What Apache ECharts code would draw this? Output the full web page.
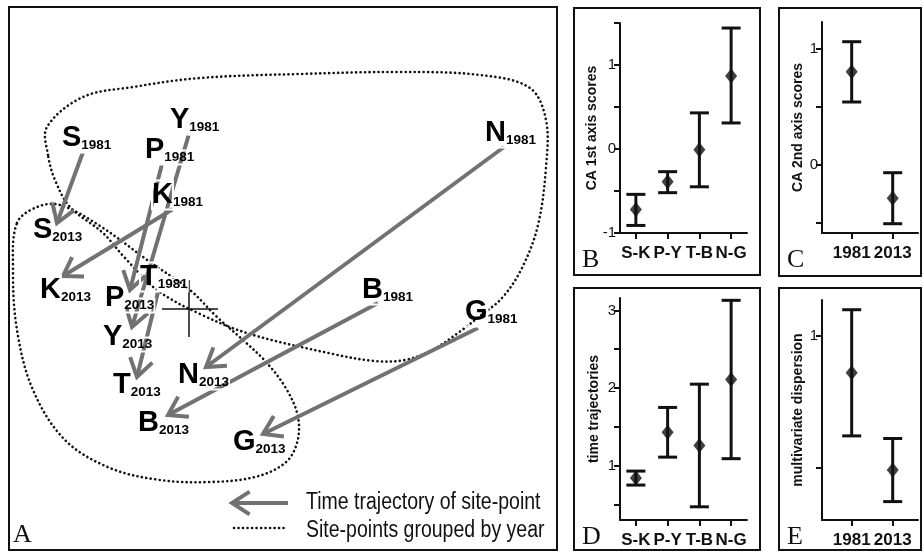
<!DOCTYPE html>
<html>
<head>
<meta charset="utf-8">
<script src="https://cdn.jsdelivr.net/npm/echarts@6/dist/echarts.min.js"></script>
<style>html,body{margin:0;padding:0;background:#fff}#c{width:923px;height:553px}</style>
</head>
<body>
<div id="c"></div>
<script>
// ---------- Panel A data (CA ordination space, crosshair = origin) ----------
const sites = ['S','Y','P','K','T','N','B','G'];
// label anchor (letter left, baseline)
const lab1981X = [-1.27,-0.19,-0.44,-0.37,-0.49, 2.96, 1.73, 2.76];
const lab1981Y = [ 1.61, 1.79, 1.49, 1.04, 0.22, 1.66, 0.09,-0.13];
const lab2013X = [-1.56,-0.86,-0.84,-1.49,-0.76,-0.11,-0.51, 0.44];
const lab2013Y = [ 0.69,-0.38, 0.01, 0.09,-0.86,-0.76,-1.24,-1.43];
// trajectory arrows: tail (1981) -> tip (2013)
const arrFromX = [-1.06, 0.00,-0.27,-0.16,-0.31, 3.15, 1.89, 2.89];
const arrFromY = [ 1.57, 1.75, 1.45, 1.00, 0.17, 1.62, 0.06,-0.19];
const arrToX   = [-1.32,-0.57,-0.59,-1.26,-0.52, 0.17,-0.21, 0.74];
const arrToY   = [ 0.86,-0.18, 0.19, 0.33,-0.68,-0.58,-1.06,-1.25];
// hulls grouping site-points by year
const hull1981 = [[-1.41,1.54],[-1.42,1.82],[-1.06,2.12],[-0.56,2.22],[0.11,2.31],[1.11,2.35],[2.11,2.37],[2.91,2.34],[3.41,2.21],[3.57,1.89],[3.57,1.42],[3.49,0.84],[3.33,0.41],[3.13,0.11],[2.91,-0.07],[2.69,-0.24],[2.43,-0.41],[2.16,-0.51],[1.86,-0.52],[1.44,-0.45],[0.61,-0.25],[0.11,-0.05],[-0.32,0.19],[-0.64,0.51],[-0.86,0.76],[-1.19,1.02],[-1.34,1.29]];
const hull2013 = [[-1.72,0.86],[-1.52,1.02],[-1.29,1.04],[-0.89,0.83],[-0.39,0.47],[0.01,0.19],[0.28,-0.08],[0.54,-0.31],[0.78,-0.54],[0.98,-0.81],[1.09,-1.08],[1.08,-1.34],[0.96,-1.54],[0.66,-1.68],[0.21,-1.73],[-0.29,-1.71],[-0.79,-1.59],[-1.24,-1.31],[-1.56,-0.81],[-1.72,-0.21],[-1.76,0.39]];
const crossH = [-0.27, 0.29];
const crossV = [-0.28, 0.29];

// ---------- Panels B-E data ----------
const groups = ['S-K','P-Y','T-B','N-G'];
const years = ['1981','2013'];
const bMean = [-0.72,-0.39,-0.01,0.87];
const bLow  = [-0.91,-0.52,-0.45,0.31];
const bHigh = [-0.54,-0.27, 0.43,1.44];
const cMean = [0.80,-0.29];
const cLow  = [0.54,-0.51];
const cHigh = [1.06,-0.07];
const dMean = [0.84,1.43,1.26,2.11];
const dLow  = [0.75,1.11,0.47,1.09];
const dHigh = [0.93,1.75,2.05,3.13];
const eMean = [0.86,0.49];
const eLow  = [0.62,0.37];
const eHigh = [1.10,0.61];
const bTicks = [-1,-0.5,0,0.5,1,1.5], bLabels = [-1,0,1];
const cTicks = [-0.5,0,0.5,1], cLabels = [0,1];
const dTicks = [0.5,1,1.5,2,2.5,3], dLabels = [1,2,3];
const eTicks = [0.5,1], eLabels = [1];

const SANS = "'Liberation Sans',Arial,sans-serif";
const SERIF = "'Liberation Serif','Times New Roman',serif";
const ARROW = '#727272';
const INK = '#111';

const chart = echarts.init(document.getElementById('c'), null, {renderer:'canvas'});

function arrowShape(p0, p1, L, ang) {
  const dx = p0[0]-p1[0], dy = p0[1]-p1[1];
  const len = Math.hypot(dx, dy), ux = dx/len, uy = dy/len;
  const c = Math.cos(ang), s = Math.sin(ang);
  const b1 = [p1[0] + L*(ux*c - uy*s), p1[1] + L*(ux*s + uy*c)];
  const b2 = [p1[0] + L*(ux*c + uy*s), p1[1] + L*(-ux*s + uy*c)];
  return [
    {type:'line', shape:{x1:p0[0],y1:p0[1],x2:p1[0],y2:p1[1]}, style:{stroke:ARROW,lineWidth:4}},
    {type:'polyline', shape:{points:[b1,p1,b2]}, style:{stroke:ARROW,lineWidth:4,fill:null,lineJoin:'miter'}}
  ];
}

function errItem(params, api) {
  const x = api.value(0), lo = api.value(1), hi = api.value(2);
  const a = api.coord([x, lo]), b = api.coord([x, hi]);
  const hw = 9.5;
  const st = {stroke:INK, lineWidth:3};
  return {type:'group', children:[
    {type:'line', shape:{x1:a[0],y1:a[1],x2:b[0],y2:b[1]}, style:st},
    {type:'line', shape:{x1:a[0]-hw,y1:a[1],x2:a[0]+hw,y2:a[1]}, style:st},
    {type:'line', shape:{x1:b[0]-hw,y1:b[1],x2:b[0]+hw,y2:b[1]}, style:st}
  ]};
}

function yAx(gi, min, max, ticks, labels, name, gap) {
  return {
    type:'value', gridIndex:gi, min:min, max:max,
    name:name, nameLocation:'middle', nameGap:gap, nameRotate:90,
    nameTextStyle:{fontFamily:SANS, fontWeight:'bold', fontSize:14, color:INK},
    axisLine:{show:true, lineStyle:{color:INK, width:2}},
    axisTick:{show:true, length:6, customValues:ticks, lineStyle:{color:INK, width:2}},
    axisLabel:{show:true, customValues:labels, showMinLabel:true, showMaxLabel:true, fontFamily:SANS, fontSize:15, color:INK, margin:4},
    splitLine:{show:false}
  };
}
function xCat(gi) {
  return {
    type:'category', gridIndex:gi, data:groups, boundaryGap:true,
    axisLine:{show:true, onZero:false, lineStyle:{color:INK, width:2}},
    axisTick:{show:true, alignWithLabel:true, interval:0, length:6, lineStyle:{color:INK, width:2}},
    axisLabel:{interval:0, showMinLabel:true, showMaxLabel:true, fontFamily:SANS, fontWeight:'bold', fontSize:17, color:INK, margin:12},
    splitLine:{show:false}
  };
}
function xYear(gi) {
  return {
    type:'value', gridIndex:gi, min:0.276, max:2.617,
    axisLine:{show:true, onZero:false, lineStyle:{color:INK, width:2}},
    axisTick:{show:true, length:6, customValues:[1,2], lineStyle:{color:INK, width:2}},
    axisLabel:{customValues:[1,2], showMinLabel:true, showMaxLabel:true, hideOverlap:false,
               formatter:v => years[Math.round(Number(v))-1], fontFamily:SANS, fontWeight:'bold', fontSize:17, color:INK, margin:12},
    splitLine:{show:false}
  };
}

const labelRich = {
  b:{fontFamily:SANS, fontWeight:'bold', fontSize:29, lineHeight:29, color:INK, verticalAlign:'bottom', textBorderColor:'#fff', textBorderWidth:2},
  s:{fontFamily:SANS, fontWeight:'bold', fontSize:13.5, lineHeight:18, color:INK, verticalAlign:'bottom', textBorderColor:'#fff', textBorderWidth:2}
};

const siteLabelData = [];
sites.forEach((s,i) => {
  siteLabelData.push([lab1981X[i], lab1981Y[i], s + '|1981']);
  siteLabelData.push([lab2013X[i], lab2013Y[i], s + '|2013']);
});
const arrowData = sites.map((s,i) => [arrFromX[i], arrFromY[i], arrToX[i], arrToY[i]]);

const option = {
  backgroundColor:'#fff',
  animation:false,
  grid:[
    {left:9, top:7, width:548, height:543},
    {left:620, top:23, width:127, height:210},
    {left:822, top:22, width:96, height:211},
    {left:620, top:298, width:127, height:222},
    {left:822, top:300, width:96, height:220}
  ],
  xAxis:[
    {type:'value', gridIndex:0, min:-1.8, max:3.68, show:false},
    xCat(1), xYear(2), xCat(3), xYear(4)
  ],
  yAxis:[
    {type:'value', gridIndex:0, min:-2.41, max:3.02, show:false},
    yAx(1, -1, 1.5, bTicks, bLabels, 'CA 1st axis scores', 19),
    yAx(2, -0.59, 1.23, cTicks, cLabels, 'CA 2nd axis scores', 17),
    yAx(3, 0.3, 3.16, dTicks, dLabels, 'time trajectories', 19),
    yAx(4, 0.3, 1.137, eTicks, eLabels, 'multivariate dispersion', 17)
  ],
  series:[
    {type:'custom', xAxisIndex:0, yAxisIndex:0, data:[0,1], silent:true,
     renderItem:(params, api) => {
       const h = params.dataIndex === 0 ? hull1981 : hull2013;
       const pts = h.map(p => api.coord(p));
       return {type:'polygon', shape:{points:pts, smooth:0.35},
               style:{fill:null, stroke:INK, lineWidth:2.6, lineDash:[0.1,4.4], lineCap:'round'}};
     }},
    {type:'custom', xAxisIndex:0, yAxisIndex:0, data:[0], silent:true,
     renderItem:(params, api) => {
       const h0 = api.coord([crossH[0],0]), h1 = api.coord([crossH[1],0]);
       const v0 = api.coord([0,crossV[0]]), v1 = api.coord([0,crossV[1]]);
       return {type:'group', children:[
         {type:'line', shape:{x1:h0[0],y1:h0[1],x2:h1[0],y2:h1[1]}, style:{stroke:INK,lineWidth:1.5}},
         {type:'line', shape:{x1:v0[0],y1:v0[1],x2:v1[0],y2:v1[1]}, style:{stroke:INK,lineWidth:1.5}}
       ]};
     }},
    {type:'custom', xAxisIndex:0, yAxisIndex:0, data:arrowData, silent:true,
     renderItem:(params, api) => {
       const p0 = api.coord([api.value(0), api.value(1)]);
       const p1 = api.coord([api.value(2), api.value(3)]);
       return {type:'group', children:arrowShape(p0, p1, 21, 33*Math.PI/180)};
     }},
    {type:'custom', xAxisIndex:0, yAxisIndex:0, data:siteLabelData, silent:true,
     renderItem:(params, api) => {
       const d = siteLabelData[params.dataIndex];
       const p = api.coord([d[0], d[1]]);
       const parts = d[2].split('|');
       return {type:'text', x:p[0], y:p[1]+4.5,
               style:{text:'{b|'+parts[0]+'}{s|'+parts[1]+'}', rich:labelRich, align:'left', verticalAlign:'bottom'}};
     }},
    {type:'custom', xAxisIndex:1, yAxisIndex:1, data:groups.map((g,i)=>[i,bLow[i],bHigh[i]]), renderItem:errItem},
    {type:'scatter', xAxisIndex:1, yAxisIndex:1, data:groups.map((g,i)=>[i,bMean[i]]), symbol:'diamond', symbolSize:[12,15], itemStyle:{color:INK}},
    {type:'custom', xAxisIndex:2, yAxisIndex:2, data:years.map((g,i)=>[i+1,cLow[i],cHigh[i]]), renderItem:errItem},
    {type:'scatter', xAxisIndex:2, yAxisIndex:2, data:years.map((g,i)=>[i+1,cMean[i]]), symbol:'diamond', symbolSize:[12,15], itemStyle:{color:INK}},
    {type:'custom', xAxisIndex:3, yAxisIndex:3, data:groups.map((g,i)=>[i,dLow[i],dHigh[i]]), renderItem:errItem},
    {type:'scatter', xAxisIndex:3, yAxisIndex:3, data:groups.map((g,i)=>[i,dMean[i]]), symbol:'diamond', symbolSize:[12,15], itemStyle:{color:INK}},
    {type:'custom', xAxisIndex:4, yAxisIndex:4, data:years.map((g,i)=>[i+1,eLow[i],eHigh[i]]), renderItem:errItem},
    {type:'scatter', xAxisIndex:4, yAxisIndex:4, data:years.map((g,i)=>[i+1,eMean[i]]), symbol:'diamond', symbolSize:[12,15], itemStyle:{color:INK}}
  ],
  graphic:[
    {type:'rect', shape:{x:9, y:7, width:548, height:543}, style:{fill:null, stroke:INK, lineWidth:2}, silent:true},
    {type:'rect', shape:{x:574, y:8, width:186, height:267}, style:{fill:null, stroke:INK, lineWidth:2}, silent:true},
    {type:'rect', shape:{x:779, y:8, width:142, height:268}, style:{fill:null, stroke:INK, lineWidth:2}, silent:true},
    {type:'rect', shape:{x:574, y:288, width:186, height:262}, style:{fill:null, stroke:INK, lineWidth:2}, silent:true},
    {type:'rect', shape:{x:779, y:288, width:142, height:262}, style:{fill:null, stroke:INK, lineWidth:2}, silent:true},
    {type:'text', x:13, y:548, style:{text:'A', fontFamily:SERIF, fontSize:26, fill:INK, verticalAlign:'bottom'}},
    {type:'text', x:582, y:273, style:{text:'B', fontFamily:SERIF, fontSize:26, fill:INK, verticalAlign:'bottom'}},
    {type:'text', x:787, y:273, style:{text:'C', fontFamily:SERIF, fontSize:26, fill:INK, verticalAlign:'bottom'}},
    {type:'text', x:582, y:550, style:{text:'D', fontFamily:SERIF, fontSize:26, fill:INK, verticalAlign:'bottom'}},
    {type:'text', x:787, y:550, style:{text:'E', fontFamily:SERIF, fontSize:26, fill:INK, verticalAlign:'bottom'}},
    {type:'group', children:arrowShape([288,503],[232,503],21,33*Math.PI/180), silent:true},
    {type:'line', shape:{x1:234,y1:528,x2:288,y2:528}, style:{stroke:INK, lineWidth:2.6, lineDash:[0.1,4.4], lineCap:'round'}, silent:true},
    {type:'text', x:306, y:503, scaleX:0.83, style:{text:'Time trajectory of site-point', fontFamily:SANS, fontSize:23.5, fill:INK, verticalAlign:'middle'}},
    {type:'text', x:306, y:531, scaleX:0.83, style:{text:'Site-points grouped by year', fontFamily:SANS, fontSize:23.5, fill:INK, verticalAlign:'middle'}}
  ]
};
chart.setOption(option);
</script>
</body>
</html>
